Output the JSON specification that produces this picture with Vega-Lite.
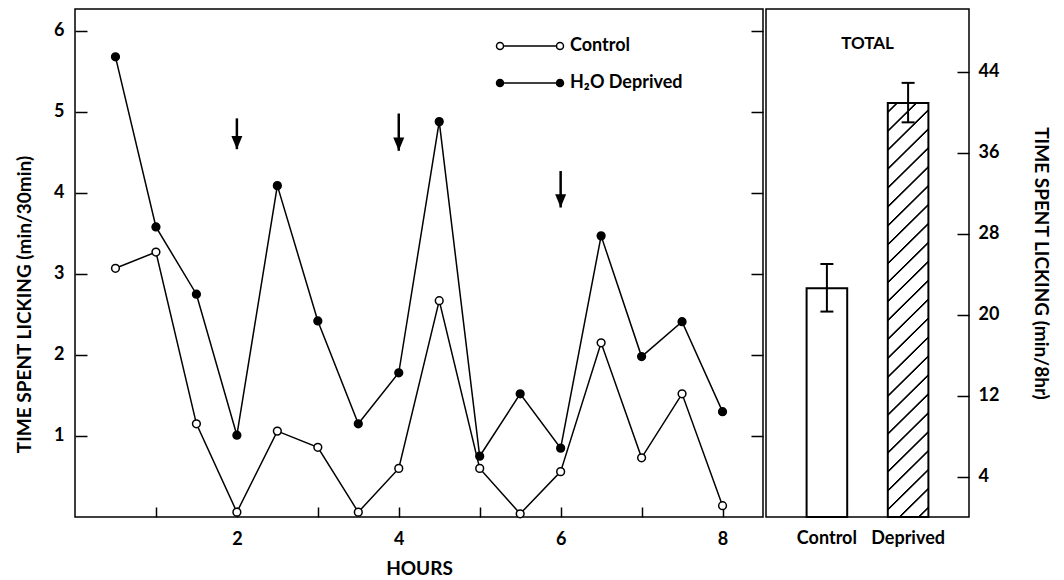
{
  "$schema": "https://vega.github.io/schema/vega-lite/v6.json",
  "background": "white",
  "padding": {"left": 14, "top": 8, "right": 6, "bottom": 0},
  "spacing": 0,
  "config": {
    "font": "Lato",
    "view": {"stroke": "black", "strokeWidth": 1.5},
    "axis": {
      "labelFont": "Lato", "labelFontWeight": "bold", "labelFontSize": 18, "labelColor": "black",
      "titleFont": "Lato", "titleFontWeight": "bold", "titleFontSize": 19, "titleColor": "black",
      "tickColor": "black", "tickWidth": 1.5, "domain": false, "grid": false
    }
  },
  "datasets": {
    "series": [
      {"hour": 0.5, "value": 3.07, "series": "Control"},
      {"hour": 1.0, "value": 3.27, "series": "Control"},
      {"hour": 1.5, "value": 1.15, "series": "Control"},
      {"hour": 2.0, "value": 0.06, "series": "Control"},
      {"hour": 2.5, "value": 1.06, "series": "Control"},
      {"hour": 3.0, "value": 0.86, "series": "Control"},
      {"hour": 3.5, "value": 0.06, "series": "Control"},
      {"hour": 4.0, "value": 0.6, "series": "Control"},
      {"hour": 4.5, "value": 2.67, "series": "Control"},
      {"hour": 5.0, "value": 0.6, "series": "Control"},
      {"hour": 5.5, "value": 0.04, "series": "Control"},
      {"hour": 6.0, "value": 0.56, "series": "Control"},
      {"hour": 6.5, "value": 2.15, "series": "Control"},
      {"hour": 7.0, "value": 0.73, "series": "Control"},
      {"hour": 7.5, "value": 1.52, "series": "Control"},
      {"hour": 8.0, "value": 0.14, "series": "Control"},
      {"hour": 0.5, "value": 5.68, "series": "H₂O Deprived"},
      {"hour": 1.0, "value": 3.58, "series": "H₂O Deprived"},
      {"hour": 1.5, "value": 2.75, "series": "H₂O Deprived"},
      {"hour": 2.0, "value": 1.01, "series": "H₂O Deprived"},
      {"hour": 2.5, "value": 4.09, "series": "H₂O Deprived"},
      {"hour": 3.0, "value": 2.42, "series": "H₂O Deprived"},
      {"hour": 3.5, "value": 1.15, "series": "H₂O Deprived"},
      {"hour": 4.0, "value": 1.78, "series": "H₂O Deprived"},
      {"hour": 4.5, "value": 4.88, "series": "H₂O Deprived"},
      {"hour": 5.0, "value": 0.75, "series": "H₂O Deprived"},
      {"hour": 5.5, "value": 1.52, "series": "H₂O Deprived"},
      {"hour": 6.0, "value": 0.85, "series": "H₂O Deprived"},
      {"hour": 6.5, "value": 3.47, "series": "H₂O Deprived"},
      {"hour": 7.0, "value": 1.98, "series": "H₂O Deprived"},
      {"hour": 7.5, "value": 2.41, "series": "H₂O Deprived"},
      {"hour": 8.0, "value": 1.3, "series": "H₂O Deprived"}
    ],
    "arrows": [
      {"hour": 2, "top": 4.92, "tip": 4.54},
      {"hour": 4, "top": 4.98, "tip": 4.52},
      {"hour": 6, "top": 4.27, "tip": 3.82}
    ],
    "totals": [
      {"group": "Control", "total": 22.6, "lo": 20.3, "hi": 25.0},
      {"group": "Deprived", "total": 40.9, "lo": 39.0, "hi": 42.9}
    ]
  },
  "hconcat": [
    {
      "width": 688,
      "height": 508,
      "resolve": {"scale": {"y": "independent"}},
      "layer": [
        {
          "layer": [
            {
              "data": {"name": "series"},
              "mark": {"type": "line", "stroke": "black", "strokeWidth": 1.5},
              "encoding": {
                "x": {"field": "hour", "type": "quantitative", "scale": {"domain": [0, 8.5], "nice": false},
                      "axis": {"values": [1, 2, 3, 4, 5, 6, 7, 8], "format": "d", "tickSize": -10, "labelPadding": 23,
                               "labelExpr": "datum.value % 2 === 0 ? datum.label : ''",
                               "title": "HOURS", "titlePadding": 11}},
                "y": {"field": "value", "type": "quantitative", "scale": {"domain": [0, 6.27], "nice": false},
                      "axis": {"values": [1, 2, 3, 4, 5, 6], "format": "d", "tickSize": -12, "labelPadding": 23,
                               "title": "TIME SPENT LICKING (min/30min)", "titlePadding": 19, "titleY": 295}},
                "detail": {"field": "series"}
              }
            },
            {
              "data": {"name": "series"},
              "mark": {"type": "point", "filled": true, "stroke": "black", "strokeWidth": 1.5, "size": 60, "opacity": 1},
              "encoding": {
                "x": {"field": "hour", "type": "quantitative"},
                "y": {"field": "value", "type": "quantitative"},
                "fill": {"field": "series", "type": "nominal",
                         "scale": {"domain": ["Control", "H₂O Deprived"], "range": ["white", "black"]},
                         "legend": {"orient": "none", "legendX": 446, "legendY": 28, "title": null,
                                    "symbolType": "M-6.7,0a0.7,0.7 0 1,0 1.4,0a0.7,0.7 0 1,0 -1.4,0M-5.3,0L5.3,0M5.3,0a0.7,0.7 0 1,0 1.4,0a0.7,0.7 0 1,0 -1.4,0",
                                    "symbolSize": 100, "symbolStrokeColor": "black", "symbolStrokeWidth": 1.5,
                                    "labelFont": "Lato", "labelFontWeight": "bold", "labelFontSize": 18, "labelColor": "black",
                                    "labelOffset": 31, "rowPadding": 19,
                                    "encode": {"symbols": {"update": {"stroke": {"value": "black"}, "strokeWidth": {"value": 1.5}, "opacity": {"value": 1}}}}}}
              }
            },
            {
              "data": {"name": "arrows"},
              "mark": {"type": "rule", "stroke": "black", "strokeWidth": 2.5},
              "encoding": {
                "x": {"field": "hour", "type": "quantitative"},
                "y": {"field": "top", "type": "quantitative"},
                "y2": {"field": "tip"}
              }
            },
            {
              "data": {"name": "arrows"},
              "mark": {"type": "point", "shape": "M-1,-2.4L1,-2.4L0,0Z", "filled": true, "fill": "black", "size": 121, "opacity": 1},
              "encoding": {
                "x": {"field": "hour", "type": "quantitative"},
                "y": {"field": "tip", "type": "quantitative"}
              }
            }
          ]
        },
        {
          "data": {"name": "series"},
          "mark": {"type": "point", "opacity": 0},
          "encoding": {
            "x": {"field": "hour", "type": "quantitative"},
            "y": {"field": "value", "type": "quantitative", "scale": {"domain": [0, 6.27], "nice": false},
                  "axis": {"orient": "right", "labels": false, "title": null, "values": [1, 2, 3, 4, 5, 6], "tickSize": -12}}
          }
        }
      ]
    },
    {
      "width": 203,
      "height": 508,
      "data": {"name": "totals"},
      "layer": [
        {
          "transform": [{"filter": "datum.group === 'Control'"}],
          "mark": {"type": "bar", "fill": "white", "stroke": "black", "strokeWidth": 2},
          "encoding": {
            "x": {"field": "group", "type": "nominal", "sort": null,
                  "scale": {"domain": ["Control", "Deprived"], "paddingInner": 0.5, "paddingOuter": 0.5},
                  "axis": {"title": null, "ticks": false, "tickSize": 0, "labelAngle": 0, "labelPadding": 12}},
            "y": {"field": "total", "type": "quantitative", "scale": {"domain": [0, 50.2], "nice": false},
                  "axis": {"orient": "right", "values": [4, 12, 20, 28, 36, 44], "tickSize": -12, "labelPadding": 21,
                           "title": "TIME SPENT LICKING (min/8hr)", "titlePadding": 32}}
          }
        },
        {
          "transform": [{"filter": "datum.group === 'Deprived'"}],
          "mark": {
            "type": "bar", "stroke": "black", "strokeWidth": 2,
            "fill": {
              "gradient": "linear", "x1": 0, "y1": 0, "x2": 0.105, "y2": 1.0865,
              "stops": [
                {"offset": 0.0, "color": "white"},
                {"offset": 0.0165, "color": "white"}, {"offset": 0.0185, "color": "black"}, {"offset": 0.0215, "color": "black"}, {"offset": 0.0235, "color": "white"},
                {"offset": 0.0582, "color": "white"}, {"offset": 0.0602, "color": "black"}, {"offset": 0.0632, "color": "black"}, {"offset": 0.0652, "color": "white"},
                {"offset": 0.0999, "color": "white"}, {"offset": 0.1019, "color": "black"}, {"offset": 0.1049, "color": "black"}, {"offset": 0.1069, "color": "white"},
                {"offset": 0.1416, "color": "white"}, {"offset": 0.1436, "color": "black"}, {"offset": 0.1466, "color": "black"}, {"offset": 0.1486, "color": "white"},
                {"offset": 0.1833, "color": "white"}, {"offset": 0.1853, "color": "black"}, {"offset": 0.1883, "color": "black"}, {"offset": 0.1903, "color": "white"},
                {"offset": 0.2250, "color": "white"}, {"offset": 0.2270, "color": "black"}, {"offset": 0.2300, "color": "black"}, {"offset": 0.2320, "color": "white"},
                {"offset": 0.2667, "color": "white"}, {"offset": 0.2687, "color": "black"}, {"offset": 0.2717, "color": "black"}, {"offset": 0.2737, "color": "white"},
                {"offset": 0.3084, "color": "white"}, {"offset": 0.3104, "color": "black"}, {"offset": 0.3134, "color": "black"}, {"offset": 0.3154, "color": "white"},
                {"offset": 0.3501, "color": "white"}, {"offset": 0.3521, "color": "black"}, {"offset": 0.3551, "color": "black"}, {"offset": 0.3571, "color": "white"},
                {"offset": 0.3918, "color": "white"}, {"offset": 0.3938, "color": "black"}, {"offset": 0.3968, "color": "black"}, {"offset": 0.3988, "color": "white"},
                {"offset": 0.4335, "color": "white"}, {"offset": 0.4355, "color": "black"}, {"offset": 0.4385, "color": "black"}, {"offset": 0.4405, "color": "white"},
                {"offset": 0.4752, "color": "white"}, {"offset": 0.4772, "color": "black"}, {"offset": 0.4802, "color": "black"}, {"offset": 0.4822, "color": "white"},
                {"offset": 0.5169, "color": "white"}, {"offset": 0.5189, "color": "black"}, {"offset": 0.5219, "color": "black"}, {"offset": 0.5239, "color": "white"},
                {"offset": 0.5586, "color": "white"}, {"offset": 0.5606, "color": "black"}, {"offset": 0.5636, "color": "black"}, {"offset": 0.5656, "color": "white"},
                {"offset": 0.6003, "color": "white"}, {"offset": 0.6023, "color": "black"}, {"offset": 0.6053, "color": "black"}, {"offset": 0.6073, "color": "white"},
                {"offset": 0.6420, "color": "white"}, {"offset": 0.6440, "color": "black"}, {"offset": 0.6470, "color": "black"}, {"offset": 0.6490, "color": "white"},
                {"offset": 0.6837, "color": "white"}, {"offset": 0.6857, "color": "black"}, {"offset": 0.6887, "color": "black"}, {"offset": 0.6907, "color": "white"},
                {"offset": 0.7254, "color": "white"}, {"offset": 0.7274, "color": "black"}, {"offset": 0.7304, "color": "black"}, {"offset": 0.7324, "color": "white"},
                {"offset": 0.7671, "color": "white"}, {"offset": 0.7691, "color": "black"}, {"offset": 0.7721, "color": "black"}, {"offset": 0.7741, "color": "white"},
                {"offset": 0.8088, "color": "white"}, {"offset": 0.8108, "color": "black"}, {"offset": 0.8138, "color": "black"}, {"offset": 0.8158, "color": "white"},
                {"offset": 0.8505, "color": "white"}, {"offset": 0.8525, "color": "black"}, {"offset": 0.8555, "color": "black"}, {"offset": 0.8575, "color": "white"},
                {"offset": 0.8922, "color": "white"}, {"offset": 0.8942, "color": "black"}, {"offset": 0.8972, "color": "black"}, {"offset": 0.8992, "color": "white"},
                {"offset": 0.9339, "color": "white"}, {"offset": 0.9359, "color": "black"}, {"offset": 0.9389, "color": "black"}, {"offset": 0.9409, "color": "white"},
                {"offset": 0.9756, "color": "white"}, {"offset": 0.9776, "color": "black"}, {"offset": 0.9806, "color": "black"}, {"offset": 0.9826, "color": "white"},
                {"offset": 1.0, "color": "white"}
              ]
            }
          },
          "encoding": {
            "x": {"field": "group", "type": "nominal"},
            "y": {"field": "total", "type": "quantitative"}
          }
        },
        {
          "mark": {"type": "rule", "stroke": "black", "strokeWidth": 2},
          "encoding": {
            "x": {"field": "group", "type": "nominal"},
            "y": {"field": "lo", "type": "quantitative"},
            "y2": {"field": "hi"}
          }
        },
        {
          "mark": {"type": "tick", "color": "black", "thickness": 2, "size": 13, "opacity": 1},
          "encoding": {
            "x": {"field": "group", "type": "nominal"},
            "y": {"field": "lo", "type": "quantitative"}
          }
        },
        {
          "mark": {"type": "tick", "color": "black", "thickness": 2, "size": 13, "opacity": 1},
          "encoding": {
            "x": {"field": "group", "type": "nominal"},
            "y": {"field": "hi", "type": "quantitative"}
          }
        },
        {
          "data": {"values": [{"label": "TOTAL"}]},
          "mark": {"type": "text", "font": "Lato", "fontWeight": "bold", "fontSize": 17, "color": "black"},
          "encoding": {
            "text": {"field": "label"},
            "y": {"datum": 46.7, "type": "quantitative"}
          }
        }
      ]
    }
  ]
}
